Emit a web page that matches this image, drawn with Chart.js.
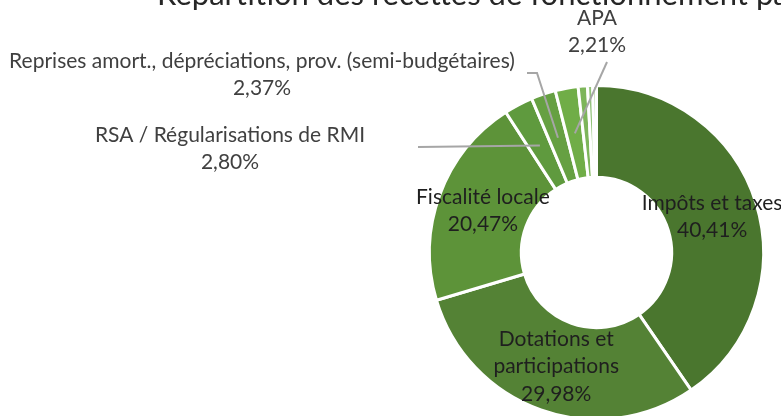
<!DOCTYPE html>
<html>
<head>
<meta charset="utf-8">
<script src="https://cdn.jsdelivr.net/npm/chart.js@4"></script>
<style>
  body { margin: 0; background: #fff; }
  #wrap { width: 781px; height: 416px; overflow: hidden; position: relative; }
  canvas { display: block; }
</style>
</head>
<body>
<div id="wrap">
  <canvas id="recettesChart" width="781" height="422"></canvas>
</div>
<script>
// recettes de fonctionnement, parts en %
const categories = [
  "Impôts et taxes",
  "Dotations et participations",
  "Fiscalité locale",
  "RSA / Régularisations de RMI",
  "Reprises amort., dépréciations, prov. (semi-budgétaires)",
  "APA",
  "Autres recettes",
  "Produits exceptionnels",
  "Divers"
];
const shares = [40.41, 29.98, 20.47, 2.80, 2.37, 2.21, 0.90, 0.50, 0.36];
const sliceColors = ["#4a762e", "#548235", "#5d9339", "#5f9a3e", "#66a042", "#70ad47", "#7db55a", "#93c47a", "#a9d18e"];

// how each label is split on lines (null = no label)
const labelLines = [
  ["Impôts et taxes"],
  ["Dotations et", "participations"],
  ["Fiscalité locale"],
  ["RSA / Régularisations de RMI"],
  ["Reprises amort., dépréciations, prov. (semi-budgétaires)"],
  ["APA"],
  null, null, null
];
// outside labels: text centre, first line y, leader path start
const outside = {
  3: { x: 230, y: 135, path: [[418, 147]] },
  4: { x: 262, y: 61, path: [[527, 73], [537, 73]] },
  5: { x: 597, y: 18, path: [[607, 62]] }
};

const FONT = "Lato, 'Open Sans', sans-serif";
const fmt = v => v.toFixed(2).replace(".", ",") + "%";

const labelsPlugin = {
  id: "labels",
  afterDatasetsDraw(chart) {
    const ctx = chart.ctx;
    const arcs = chart.getDatasetMeta(0).data;
    ctx.save();
    ctx.textAlign = "center";
    ctx.textBaseline = "middle";
    ctx.font = "21px " + FONT;
    const lh = 27.5;
    arcs.forEach((arc, i) => {
      if (!labelLines[i]) return;
      const lines = labelLines[i].concat([fmt(shares[i])]);
      const c = arc.getCenterPoint();
      const o = outside[i];
      if (o) {
        ctx.strokeStyle = "#a6a6a6";
        ctx.lineWidth = 2;
        ctx.beginPath();
        o.path.forEach((p, k) => k ? ctx.lineTo(p[0], p[1]) : ctx.moveTo(p[0], p[1]));
        ctx.lineTo(c.x, c.y);
        ctx.stroke();
        ctx.fillStyle = "#404040";
        lines.forEach((t, k) => ctx.fillText(t, o.x, o.y + k * lh));
      } else {
        ctx.fillStyle = "#1f1f1f";
        const y0 = c.y - (lines.length - 1) * lh / 2;
        lines.forEach((t, k) => ctx.fillText(t, c.x, y0 + k * lh));
      }
    });
    ctx.restore();
  },
  afterDraw(chart) {
    const ctx = chart.ctx;
    ctx.save();
    ctx.font = "31px " + FONT;
    ctx.fillStyle = "#262626";
    ctx.textAlign = "left";
    ctx.textBaseline = "alphabetic";
    ctx.fillText("Répartition des recettes de fonctionnement par nature", 157, 5);
    ctx.restore();
  }
};

new Chart(document.getElementById("recettesChart"), {
  type: "doughnut",
  data: {
    labels: categories,
    datasets: [{
      data: shares,
      backgroundColor: sliceColors,
      borderColor: "#ffffff",
      borderWidth: 3
    }]
  },
  options: {
    responsive: false,
    animation: false,
    cutout: "45%",
    layout: { padding: { left: 428, right: 16, top: 84, bottom: 1 } },
    plugins: {
      legend: { display: false },
      tooltip: { enabled: false },
      title: { display: false }
    }
  },
  plugins: [labelsPlugin]
});
</script>
</body>
</html>
